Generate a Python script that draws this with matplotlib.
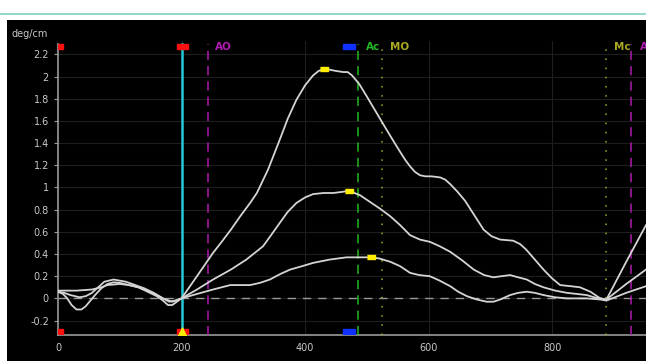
import numpy as np
import matplotlib.pyplot as plt
from matplotlib.patches import Rectangle
from matplotlib.lines import Line2D

# curve samples (x in samples, y in deg/cm)
big_x = [0, 8, 15, 22, 30, 38, 45, 60, 70, 80, 90, 100, 115, 130, 145, 160, 170, 178, 185, 190, 200,
         225, 251, 265, 280, 295, 311, 322, 340, 359, 372, 386, 400, 413, 422, 431, 441, 450, 462, 469, 476,
         488, 500, 516, 532, 544, 554, 562, 570, 578, 586, 595, 605, 619, 627, 635, 647, 659, 674, 689,
         702, 716, 737, 748, 758, 772, 786, 800, 813, 830, 845, 862, 870, 878, 888, 920, 952]
big_y = [0.06, 0.04, 0.0, -0.06, -0.10, -0.10, -0.07, 0.03, 0.09, 0.13, 0.145, 0.14, 0.12, 0.10, 0.06, 0.02, -0.02, -0.06, -0.06, -0.04, 0.0,
         0.20, 0.41, 0.51, 0.62, 0.74, 0.86, 0.95, 1.16, 1.43, 1.62, 1.79, 1.92, 2.01, 2.05, 2.07, 2.06, 2.05, 2.04, 2.04, 2.01,
         1.93, 1.82, 1.67, 1.52, 1.41, 1.32, 1.25, 1.19, 1.14, 1.11, 1.10, 1.10, 1.09, 1.07, 1.03, 0.96, 0.88, 0.75, 0.62,
         0.56, 0.53, 0.52, 0.49, 0.44, 0.35, 0.26, 0.18, 0.12, 0.11, 0.10, 0.06, 0.03, 0.0, -0.01, 0.33, 0.66]

mid_x = [0, 10, 20, 35, 45, 55, 65, 75, 90, 110, 125, 140, 155, 170, 185, 200,
         225, 251, 280, 305, 332, 345, 359, 372, 386, 400, 413, 430, 446, 460, 471, 480, 489,
         505, 521, 538, 554, 570, 586, 602, 618, 635, 655, 673, 690, 705, 718, 732, 745, 759, 772, 786, 805,
         824, 840, 856, 868, 878, 888, 920, 952]
mid_y = [0.06, 0.05, 0.03, 0.01, 0.02, 0.05, 0.10, 0.15, 0.17, 0.15, 0.12, 0.09, 0.05, 0.0, -0.03, 0.0,
         0.08, 0.17, 0.26, 0.35, 0.47, 0.57, 0.68, 0.78, 0.86, 0.91, 0.94, 0.95, 0.95, 0.96, 0.97, 0.95, 0.93,
         0.87, 0.81, 0.74, 0.66, 0.57, 0.53, 0.51, 0.47, 0.42, 0.34, 0.26, 0.21, 0.19, 0.20, 0.21, 0.19, 0.17, 0.13, 0.10, 0.07,
         0.05, 0.04, 0.03, 0.01, 0.0, -0.01, 0.13, 0.26]

small_x = [0, 30, 55, 70, 80, 100, 115, 130, 145, 160, 170, 180, 190, 200,
           225, 251, 279, 311, 327, 343, 360, 376, 395, 413, 440, 467, 485, 506,
           520, 538, 554, 570, 585, 602, 618, 635, 648, 662, 678, 694, 705, 716, 732, 745, 759, 772, 786,
           805, 824, 856, 878, 888, 920, 952]
small_y = [0.07, 0.07, 0.08, 0.10, 0.12, 0.13, 0.12, 0.10, 0.07, 0.03, 0.0, -0.03, -0.02, 0.0,
           0.04, 0.08, 0.12, 0.12, 0.14, 0.17, 0.22, 0.26, 0.29, 0.32, 0.35, 0.37, 0.37, 0.37,
           0.36, 0.33, 0.29, 0.23, 0.21, 0.20, 0.16, 0.11, 0.06, 0.02, -0.01, -0.03, -0.03, -0.01, 0.03, 0.05, 0.06, 0.05, 0.03,
           0.01, 0.0, 0.0, -0.01, -0.02, 0.05, 0.11]

peak_x = [431, 471, 506]
peak_y = [2.07, 0.97, 0.37]

# event lines
event_x = [200, 243, 485, 525, 888, 928]
event_labels = ['', 'AO', 'Ac', 'MO', 'Mc', 'A']
event_colors = ['#22c8d8', '#b01ab0', '#22b822', '#a8a820', '#a8a820', '#b01ab0']
event_styles = ['-', (0, (6, 4)), (0, (6, 4)), (0, (1, 5)), (0, (1, 5)), (0, (6, 4))]
label_x = [0, 254, 499, 538, 900, 943]

yticks = [-0.2, 0, 0.2, 0.4, 0.6, 0.8, 1, 1.2, 1.4, 1.6, 1.8, 2, 2.2]
ytick_labels = ['-0.2', '0', '0.2', '0.4', '0.6', '0.8', '1', '1.2', '1.4', '1.6', '1.8', '2', '2.2']
xticks = [0, 200, 400, 600, 800]

fig = plt.figure(figsize=(6.46, 3.61), dpi=100)
fig.patch.set_facecolor('white')
fig.patches.append(Rectangle((7 / 646, 0), 1 - 7 / 646, (361 - 20) / 361,
                             transform=fig.transFigure, facecolor='black', zorder=-1))
fig.lines.append(Line2D([0, 1], [1 - 14 / 361, 1 - 14 / 361], transform=fig.transFigure,
                        color='#7fd0c4', lw=1.2))

ax = fig.add_axes([58 / 646, 26 / 361, 1 - 58 / 646, (335 - 41) / 361])
ax.set_zorder(2)
ax.set_facecolor('black')
ax.set_xlim(0, 952)
ax.set_ylim(-0.33, 2.32)

for y in yticks:
    ax.axhline(y, color='#1e1e1e', lw=0.8, zorder=1)
for x in xticks[1:]:
    ax.axvline(x, color='#1e1e1e', lw=0.8, zorder=1)
ax.axhline(0, color='#9a9a9a', lw=1, dashes=(6, 5), zorder=2)

for x, lab, c, ls, lx in zip(event_x, event_labels, event_colors, event_styles, label_x):
    ax.plot([x, x], [-0.33, 2.29], color=c, lw=1.8 if ls == '-' else 1.1, linestyle=ls, zorder=3)
    if lab:
        ax.text(lx, 2.265, lab, color=c, fontsize=7.5, fontweight='bold',
                va='center', ha='left', zorder=4, clip_on=True)

for xs, ys in [(big_x, big_y), (mid_x, mid_y), (small_x, small_y)]:
    ax.plot(xs, ys, color='#d4d4d4', lw=1.3, zorder=5, solid_joinstyle='round')

box = [(-1.6, -1), (1.6, -1), (1.6, 1), (-1.6, 1)]
ax.scatter(peak_x, peak_y, marker=box, s=30, color='#ffee00', zorder=6)

# top and bottom event markers
for y in [2.27, -0.305]:
    ax.add_patch(Rectangle((0, y - 0.025), 8, 0.05, color='#ff1010', zorder=6))
    ax.add_patch(Rectangle((193, y - 0.025), 17, 0.05, color='#ff1010', zorder=6))
    ax.add_patch(Rectangle((462, y - 0.025), 19, 0.05, color='#1030ff', zorder=6))
ax.scatter([201], [-0.3], marker='^', s=40, color='#ffee00', zorder=7)

ax.set_yticks(yticks)
ax.set_yticklabels(ytick_labels)
ax.set_xticks(xticks)
ax.tick_params(colors='#9a9a9a', labelcolor='#c8c8c8', labelsize=7, length=3, width=0.8)
ax.tick_params(axis='x', length=0, pad=6)
for s in ['top', 'right']:
    ax.spines[s].set_visible(False)
for s in ['left', 'bottom']:
    ax.spines[s].set_color('#9a9a9a')
    ax.spines[s].set_linewidth(1.2)
ax.spines['left'].set_bounds(-0.33, 2.29)

fig.text(12 / 646, 1 - 34 / 361, 'deg/cm', color='#c8c8c8', fontsize=7, va='center', ha='left')

fig.savefig('out.png', dpi=100, facecolor=fig.get_facecolor())
